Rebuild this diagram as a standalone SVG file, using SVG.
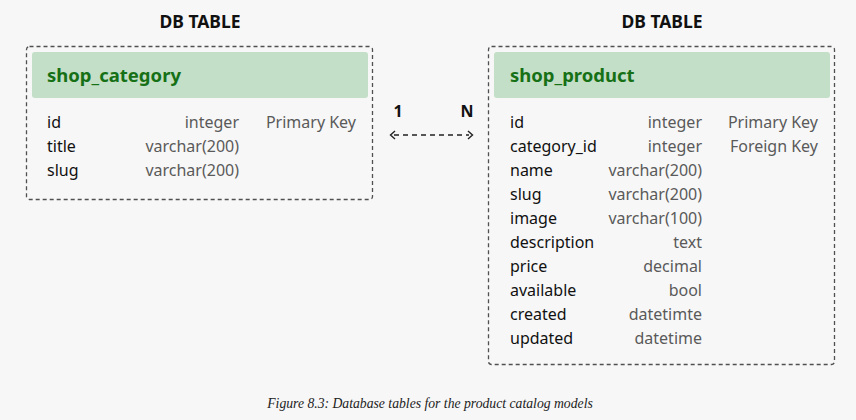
<svg xmlns="http://www.w3.org/2000/svg" width="856" height="420" viewBox="0 0 856 420">
<defs>
<style>
.bg{fill:#f7f7f7}
.frame{fill:none;stroke:#505050;stroke-width:1.3;stroke-dasharray:4 3}
.hdr{fill:#c4dfc7}
.title{font-family:"Noto Sans","Open Sans",sans-serif;font-weight:bold;font-size:17.5px;fill:#111;text-anchor:middle}
.tname{font-family:"Noto Sans","Open Sans",sans-serif;font-weight:bold;font-size:18.5px;fill:#167016}
.f{font-family:"Noto Sans","Open Sans",sans-serif;font-size:16px;fill:#111}
.t{font-family:"Noto Sans","Open Sans",sans-serif;font-size:16px;fill:#5a5a5a;text-anchor:end}
.card{font-family:"Noto Sans","Open Sans",sans-serif;font-weight:bold;font-size:16px;fill:#111;text-anchor:middle}
.cap{font-family:"Liberation Serif",serif;font-style:italic;font-size:13.7px;fill:#222;text-anchor:middle}
.conn{fill:none;stroke:#222;stroke-width:1.4}
</style>
</defs>
<rect class="bg" x="0" y="0" width="856" height="420"/>
<g id="shop_category">
<text class="title" x="200" y="28">DB TABLE</text>
<rect class="frame" x="26.5" y="46.5" width="346" height="153" rx="3"/>
<rect class="hdr" x="32" y="52" width="336" height="46" rx="3"/>
<text class="tname" x="47" y="82">shop_category</text>
<text class="f" x="47" y="128">id</text><text class="t" x="239" y="128">integer</text><text class="t" x="356" y="128">Primary Key</text>
<text class="f" x="47" y="152">title</text><text class="t" x="239" y="152">varchar(200)</text>
<text class="f" x="47" y="176">slug</text><text class="t" x="239" y="176">varchar(200)</text>
</g>
<g id="shop_product">
<text class="title" x="662" y="28">DB TABLE</text>
<rect class="frame" x="488.5" y="46.5" width="346" height="318" rx="3"/>
<rect class="hdr" x="494" y="52" width="336" height="46" rx="3"/>
<text class="tname" x="510" y="82">shop_product</text>
<text class="f" x="510" y="128">id</text><text class="t" x="702" y="128">integer</text><text class="t" x="818" y="128">Primary Key</text>
<text class="f" x="510" y="152">category_id</text><text class="t" x="702" y="152">integer</text><text class="t" x="818" y="152">Foreign Key</text>
<text class="f" x="510" y="176">name</text><text class="t" x="702" y="176">varchar(200)</text>
<text class="f" x="510" y="200">slug</text><text class="t" x="702" y="200">varchar(200)</text>
<text class="f" x="510" y="224">image</text><text class="t" x="702" y="224">varchar(100)</text>
<text class="f" x="510" y="248">description</text><text class="t" x="702" y="248">text</text>
<text class="f" x="510" y="272">price</text><text class="t" x="702" y="272">decimal</text>
<text class="f" x="510" y="296">available</text><text class="t" x="702" y="296">bool</text>
<text class="f" x="510" y="320">created</text><text class="t" x="702" y="320">datetimte</text>
<text class="f" x="510" y="344">updated</text><text class="t" x="702" y="344">datetime</text>
</g>
<g id="connectors">
<text class="card" x="398" y="117">1</text>
<text class="card" x="467" y="117">N</text>
<line class="conn" x1="394" y1="135" x2="469" y2="135" stroke-dasharray="5 4"/>
<polyline class="conn" points="395,131 390.5,135 395,139"/>
<polyline class="conn" points="468,131 472.5,135 468,139"/>
</g>
<text class="cap" x="430" y="408">Figure 8.3: Database tables for the product catalog models</text>
</svg>
